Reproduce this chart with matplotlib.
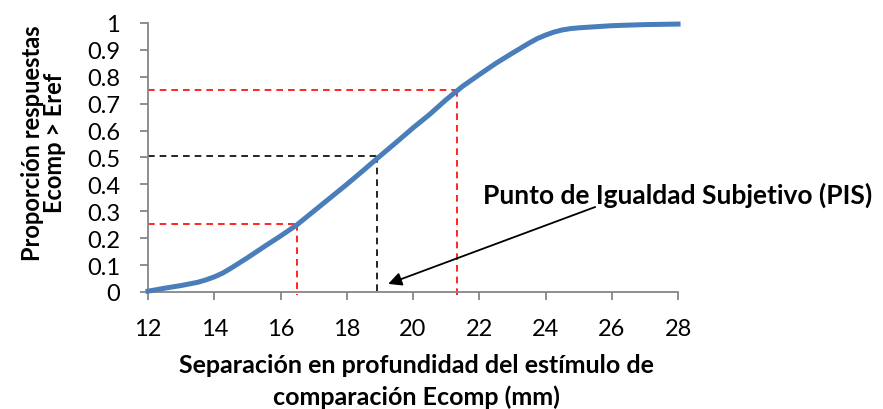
import matplotlib
matplotlib.use("Agg")
from matplotlib import pyplot as plt

# region Data
sep = [12, 12.5, 13, 13.5, 13.75, 14, 14.25, 14.5, 15, 15.5, 16, 16.5, 17, 17.5, 18, 18.5, 19,
       19.5, 20, 20.5, 21, 21.5, 22, 22.5, 23, 23.5, 23.75, 24, 24.25, 24.5, 24.75, 25, 25.5,
       26, 27, 28]
prop = [0.003, 0.014, 0.024, 0.036, 0.045, 0.056, 0.07, 0.088, 0.127, 0.168, 0.208, 0.25, 0.30,
        0.35, 0.40, 0.452, 0.505, 0.557, 0.61, 0.66, 0.715, 0.765, 0.808, 0.85, 0.888, 0.925,
        0.942, 0.955, 0.966, 0.974, 0.979, 0.982, 0.986, 0.99, 0.994, 0.996]

q25 = (16.5, 0.253)
q50 = (18.92, 0.507)
q75 = (21.33, 0.752)
xticks = list(range(12, 29, 2))
yticks = [0, 0.1, 0.2, 0.3, 0.4, 0.5, 0.6, 0.7, 0.8, 0.9, 1]
ytick_labels = ["0", "0.1", "0.2", "0.3", "0.4", "0.5", "0.6", "0.7", "0.8", "0.9", "1"]
# endregion

plt.rcParams['font.family'] = ['Lato', 'DejaVu Sans']
gray = "#868686"

fig = plt.figure(figsize=(8.83, 4.10), dpi=100)
ax = fig.add_axes([0.1676, 0.2854, 0.6003, 0.6561])

# dashed guide lines
for (qx, qy), col in [(q25, "#ff0000"), (q75, "#ff0000"), (q50, "#000000")]:
    ax.plot([12, qx], [qy, qy], color=col, ls=(0, (4, 3)), lw=1.2, zorder=2)
    ax.plot([qx, qx], [qy, -0.012], color=col, ls=(0, (4, 3)), lw=1.2, zorder=2, clip_on=False)

ax.plot(sep, prop, color="#4a7ebb", lw=3.6, solid_joinstyle="round", zorder=3, clip_on=False)

ax.set_xlim(12, 28)
ax.set_ylim(0, 1)
ax.set_xticks(xticks)
ax.set_yticks(yticks)
ax.set_yticklabels(ytick_labels)
for s in ["top", "right"]:
    ax.spines[s].set_visible(False)
for s in ["left", "bottom"]:
    ax.spines[s].set_color(gray)
    ax.spines[s].set_linewidth(1.3)
ax.tick_params(axis="both", colors=gray, labelcolor="black", labelsize=17, length=6, width=1.3)
ax.tick_params(axis="x", pad=13)
ax.tick_params(axis="y", pad=14)

fig.text(0.472, 0.07, "Separación en profundidad del estímulo de\ncomparación Ecomp (mm)",
         fontsize=18, fontweight="bold", linespacing=1.4, ha="center", va="center")
fig.text(0.0495, 0.651, "Proporción respuestas\nEcomp > Eref", fontsize=17, fontweight="bold",
         linespacing=0.97, ha="center", va="center", rotation=90)

ax.text(27.99, 0.364, "Punto de Igualdad Subjetivo (PIS)", fontsize=19, fontweight="bold",
        ha="center", va="center", clip_on=False)
ax.annotate("", xy=(19.25, 0.03), xytext=(25.5, 0.316), annotation_clip=False,
            arrowprops=dict(arrowstyle="-|>", color="black", lw=1.3, mutation_scale=20,
                            shrinkA=0, shrinkB=0))

fig.savefig("out.png", dpi=100)
